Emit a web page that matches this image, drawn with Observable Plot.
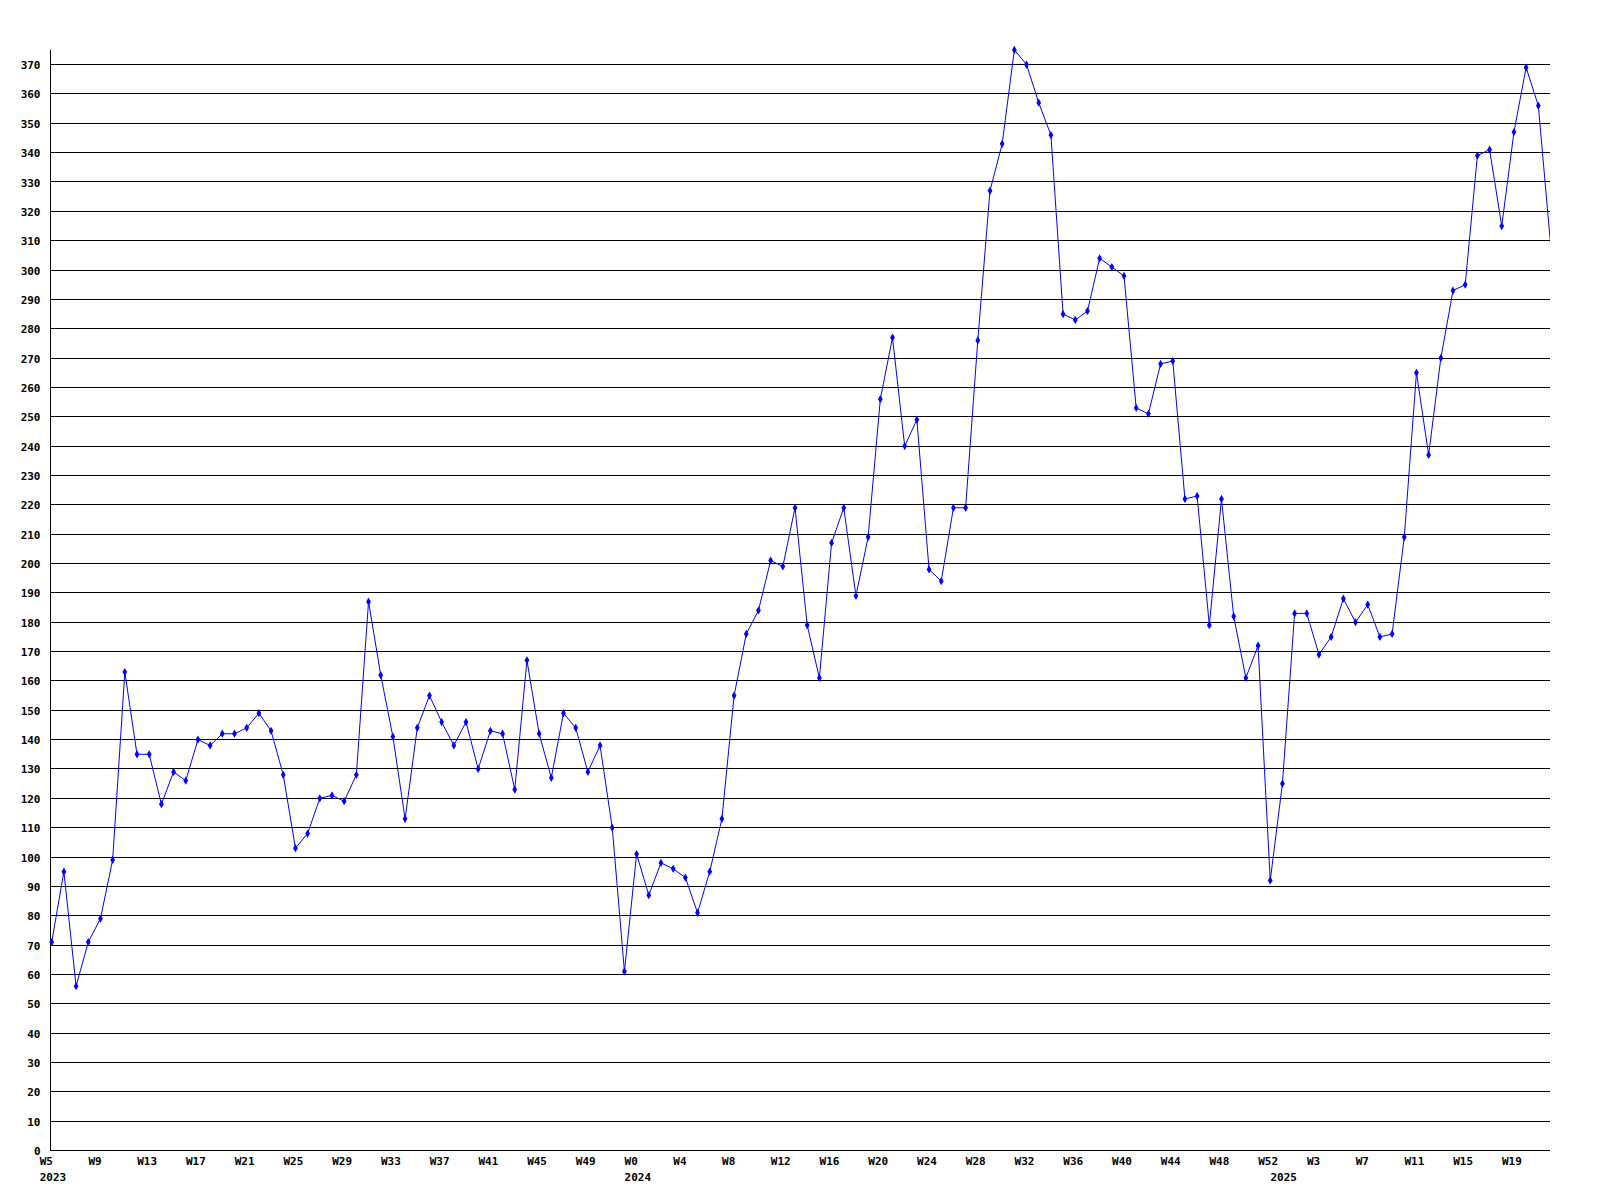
<!DOCTYPE html>
<html>
<head>
<meta charset="utf-8">
<script src="https://cdn.jsdelivr.net/npm/d3@7"></script>
<script src="https://cdn.jsdelivr.net/npm/@observablehq/plot@0.6"></script>
<style>
  body { margin: 0; background: #fff; }
  #chart svg { display: block; }
</style>
</head>
<body>
<div id="chart"></div>
<script>
// Weekly values, one per week from W5 2023 onward
const weeklyValues = [
  71, 95, 56, 71, 79, 99, 163, 135, 135, 118,
  129, 126, 140, 138, 142, 142, 144, 149, 143, 128,
  103, 108, 120, 121, 119, 128, 187, 162, 141, 113,
  144, 155, 146, 138, 146, 130, 143, 142, 123, 167,
  142, 127, 149, 144, 129, 138, 110, 61, 101, 87,
  98, 96, 93, 81, 95, 113, 155, 176, 184, 201,
  199, 219, 179, 161, 207, 219, 189, 209, 256, 277,
  240, 249, 198, 194, 219, 219, 276, 327, 343, 375,
  370, 357, 346, 285, 283, 286, 304, 301, 298, 253,
  251, 268, 269, 222, 223, 179, 222, 182, 161, 172,
  92, 125, 183, 183, 169, 175, 188, 180, 186, 175,
  176, 209, 265, 237, 270, 293, 295, 339, 341, 315,
  347, 369, 356, 309
];

// X tick labels (week numbers) and their week positions
const weekTickIndex = [0, 4, 8, 12, 16, 20, 24, 28, 32, 36, 40, 44, 48, 52, 56, 60, 64, 68, 72, 76, 80, 84, 88, 92, 96, 100, 104, 108, 112, 116, 120];
const weekTickLabels = ["W5", "W9", "W13", "W17", "W21", "W25", "W29", "W33", "W37", "W41", "W45", "W49",
  "W0", "W4", "W8", "W12", "W16", "W20", "W24", "W28", "W32", "W36", "W40", "W44", "W48", "W52",
  "W3", "W7", "W11", "W15", "W19"];

// Year labels and the week positions where each year starts
const yearTickIndex = [0, 48, 101];
const yearLabels = ["2023", "2024", "2025"];

// Y ticks
const yTicks = d3.range(0, 371, 10);

const data = weeklyValues.map((v, i) => ({i, v}));

const xMin = -0.1, xMax = 123.0, yMax = 374.8;

const chart = Plot.plot({
  width: 1600,
  height: 1200,
  marginTop: 50,
  marginBottom: 50,
  marginLeft: 50,
  marginRight: 50,
  style: {
    fontFamily: "'DejaVu Sans Mono', monospace",
    fontSize: "11px",
    fontWeight: "bold",
    color: "#000",
    background: "#fff"
  },
  x: {domain: [xMin, xMax], axis: null},
  y: {domain: [0, yMax], axis: null},
  marks: [
    Plot.gridY(yTicks.filter(d => d > 0), {stroke: "#000", strokeOpacity: 1, strokeWidth: 1, shapeRendering: "crispEdges"}),
    Plot.ruleY([0], {stroke: "#000", strokeWidth: 1, shapeRendering: "crispEdges"}),
    Plot.ruleX([xMin], {y1: 0, y2: yMax, stroke: "#000", strokeWidth: 1, shapeRendering: "crispEdges"}),
    Plot.axisY(yTicks, {tickSize: 0, tickPadding: 10, label: null, fill: "#000", dy: 1}),
    Plot.axisX(weekTickIndex, {
      tickSize: 0, tickPadding: 7, label: null, textAnchor: "start", dx: -12, fill: "#000",
      tickFormat: d => weekTickLabels[weekTickIndex.indexOf(d)]
    }),
    Plot.axisX(yearTickIndex, {
      tickSize: 0, tickPadding: 23, label: null, textAnchor: "start", dx: -12, fill: "#000",
      tickFormat: d => yearLabels[yearTickIndex.indexOf(d)]
    }),
    Plot.line(data, {x: "i", y: "v", stroke: "#0000ff", strokeWidth: 1, clip: true}),
    // markers only for weeks strictly inside the plotted frame
    Plot.dot(data.filter(d => d.i < xMax), {x: "i", y: "v", symbol: "diamond", r: 2.5, fill: "#0000ff"})
  ]
});

document.getElementById("chart").appendChild(chart);
</script>
</body>
</html>
